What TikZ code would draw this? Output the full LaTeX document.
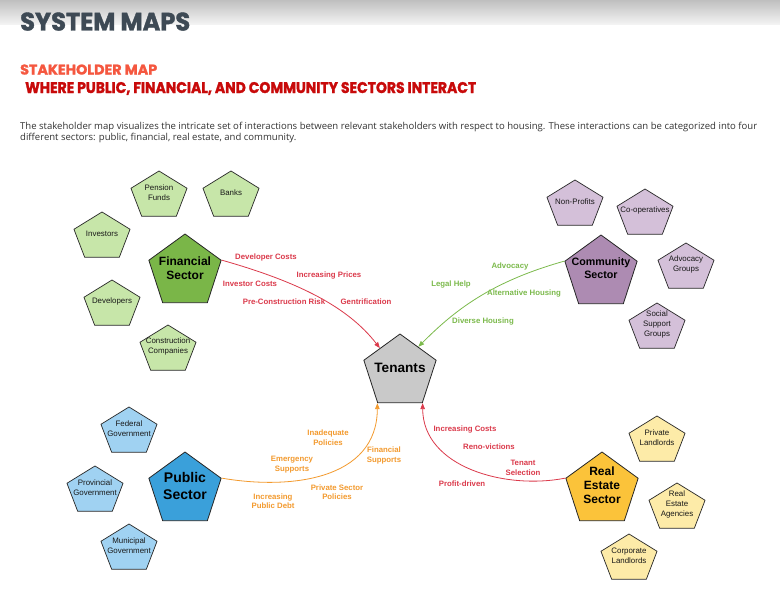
\documentclass[tikz,border=0pt]{standalone}
\usepackage{fontspec}
\setmainfont{Liberation Sans}
\newfontfamily\headfont[BoldFeatures={FakeBold=1.6}]{Poppins}
\newfontfamily\bodyfont{Open Sans}
\usetikzlibrary{shapes.geometric,arrows.meta,calc}
\definecolor{titlec}{HTML}{3E4A55}
\definecolor{subc}{HTML}{F5573F}
\definecolor{sub2c}{HTML}{C80A0A}
\definecolor{bodyc}{HTML}{333333}
\definecolor{finD}{HTML}{7AB648}
\definecolor{finL}{HTML}{C7E6A9}
\definecolor{comD}{HTML}{AD8BB2}
\definecolor{comL}{HTML}{D4C0D9}
\definecolor{pubD}{HTML}{3AA0DA}
\definecolor{pubL}{HTML}{A0D2F2}
\definecolor{reD}{HTML}{FBC33A}
\definecolor{reL}{HTML}{FDEBA8}
\definecolor{tenc}{HTML}{C9C9C9}
\definecolor{redc}{HTML}{DB3A4B}
\definecolor{orangec}{HTML}{F39A2E}
\definecolor{greenc}{HTML}{7CBA4C}
\newcommand{\spent}[5]{%
  \draw[smallpent, fill=#4, shift={(#2,#3)}] (0,-25) -- (28.05,-7.73) -- (17.34,20.23) -- (-17.34,20.23) -- (-28.05,-7.73) -- cycle;
  \node[smalltext] (#1) at (#2,#3-3.5) {#5};}
\begin{document}
\begin{tikzpicture}[x=1pt,y=-1pt,
  smallpent/.style={draw=black!85, line width=0.7pt},
  smalltext/.style={font=\fontsize{7.9}{10}\selectfont, align=center, inner sep=0pt, text=black!90},
  sector/.style={regular polygon, regular polygon sides=5, minimum size=76pt, inner sep=0pt, draw=black!85, line width=0.8pt},
  sectortext/.style={font=\bfseries\fontsize{12}{14}\selectfont, align=center, inner sep=0pt},
  elabel/.style={font=\bfseries\fontsize{7.8}{9.5}\selectfont, align=center, inner sep=0pt},
  link/.style={line width=0.8pt, -{Triangle[length=6pt,width=4.5pt]}},
  head/.style={anchor=base west, inner sep=0pt}
]
\useasboundingbox (0,0) rectangle (780,594);
\fill[white] (0,0) rectangle (780,594);
\shade[top color=black!25, bottom color=black!4] (0,0) rectangle (780,25);

% header
\node[head, text=titlec] (title) at (20,30.5) {\resizebox{170pt}{18pt}{\headfont\bfseries SYSTEM MAPS}};
\node[head, text=subc] (sub1) at (20,74.5) {\resizebox{137pt}{10pt}{\headfont\bfseries STAKEHOLDER MAP}};
\node[head, text=sub2c] (sub2) at (25,93) {\resizebox{451pt}{11pt}{\headfont\bfseries WHERE PUBLIC, FINANCIAL, AND COMMUNITY SECTORS INTERACT}};
\node[head, text=bodyc, font=\bodyfont\fontsize{9.55}{12}\selectfont] (body1) at (20,129) {The stakeholder map visualizes the intricate set of interactions between relevant stakeholders with respect to housing. These interactions can be categorized into four};
\node[head, text=bodyc, font=\bodyfont\fontsize{9.55}{12}\selectfont] (body2) at (20,140.5) {different sectors: public, financial, real estate, and community.};

% small pentagons
\spent{pension}{159}{196}{finL}{Pension\\Funds}
\spent{banks}{231}{196}{finL}{Banks}
\spent{investors}{102}{237}{finL}{Investors}
\spent{developers}{112}{305}{finL}{Developers}
\spent{construction}{168}{350}{finL}{Construction\\Companies}
\spent{nonprofits}{575}{205}{comL}{Non-Profits}
\spent{coops}{645}{214}{comL}{Co-operatives}
\spent{advgroups}{686}{268}{comL}{Advocacy\\Groups}
\spent{social}{657}{328}{comL}{Social\\Support\\Groups}
\spent{federal}{129}{432}{pubL}{Federal\\Government}
\spent{provincial}{95}{491}{pubL}{Provincial\\Government}
\spent{municipal}{129}{549}{pubL}{Municipal\\Government}
\spent{privatel}{657}{441}{reL}{Private\\Landlords}
\spent{agencies}{677}{508}{reL}{Real\\Estate\\Agencies}
\spent{corporate}{629}{559}{reL}{Corporate\\Landlords}

% sectors
\node[sector, fill=finD] (fin) at (185,272) {};
\node[sectortext] (finT) at (185,268) {Financial\\Sector};
\node[sector, fill=comD] (com) at (601,273) {};
\node[sectortext, font=\bfseries\fontsize{10.7}{13}\selectfont] (comT) at (601,268.5) {Community\\Sector};
\node[sector, fill=pubD] (pub) at (185,490) {};
\node[sectortext, font=\bfseries\fontsize{14}{17}\selectfont] (pubT) at (185,485.5) {Public\\Sector};
\node[sector, fill=reD] (re) at (602,490) {};
\node[sectortext] (reT) at (602,485) {Real\\Estate\\Sector};
\node[sector, fill=tenc] (ten) at (400,372) {};
\node[sectortext, font=\bfseries\fontsize{13.6}{16}\selectfont] (tenT) at (400,368) {Tenants};

% connectors
\draw[link, redc] (fin.corner 5) .. controls (299,282) and (348,307) .. ($(ten.corner 1)!0.55!(ten.corner 2)$);
\draw[link, greenc] (com.corner 2) .. controls (490,282) and (454,311) .. ($(ten.corner 1)!0.5!(ten.corner 5)$);
\draw[link, orangec] (pub.corner 5) .. controls (290,490) and (377,480) .. (ten.corner 3);
\draw[link, redc] (re.corner 2) .. controls (505,490) and (423,467) .. (ten.corner 4);

% labels
\node[elabel, text=redc] (l1) at (266,257) {Developer Costs};
\node[elabel, text=redc] (l2) at (329,275) {Increasing Prices};
\node[elabel, text=redc] (l3) at (250,284) {Investor Costs};
\node[elabel, text=redc] (l4) at (284,302) {Pre-Construction Risk};
\node[elabel, text=redc] (l5) at (366,302) {Gentrification};

\node[elabel, text=greenc] (g1) at (510,266) {Advocacy};
\node[elabel, text=greenc] (g2) at (451,284) {Legal Help};
\node[elabel, text=greenc] (g3) at (524,293) {Alternative Housing};
\node[elabel, text=greenc] (g4) at (483,321) {Diverse Housing};

\node[elabel, text=orangec] (o1) at (328,437.5) {Inadequate\\Policies};
\node[elabel, text=orangec] (o2) at (292,464.5) {Emergency\\Supports};
\node[elabel, text=orangec] (o3) at (384,455.5) {Financial\\Supports};
\node[elabel, text=orangec] (o4) at (337,492) {Private Sector\\Policies};
\node[elabel, text=orangec] (o5) at (273,501) {Increasing\\Public Debt};

\node[elabel, text=redc] (r1) at (465,429) {Increasing Costs};
\node[elabel, text=redc] (r2) at (489,447) {Reno-victions};
\node[elabel, text=redc] (r3) at (523,468) {Tenant\\Selection};
\node[elabel, text=redc] (r4) at (462,484) {Profit-driven};
\end{tikzpicture}
\end{document}
